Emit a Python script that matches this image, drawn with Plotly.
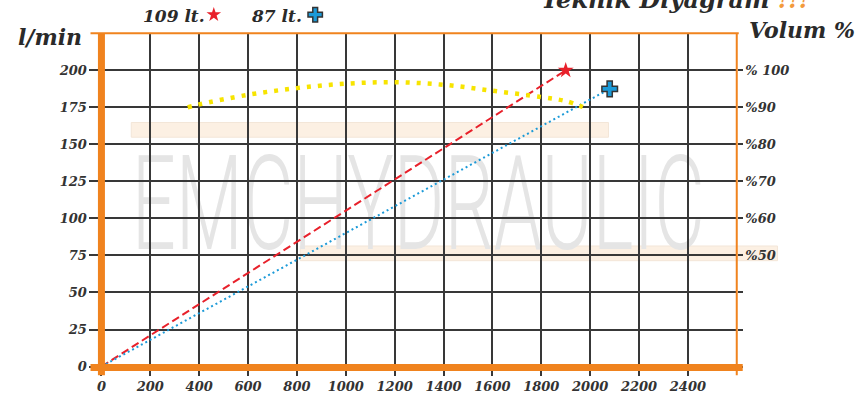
import plotly.graph_objects as go

W, H = 867, 401

# ---- data ----
x_109 = [0, 1900]
y_109 = [0, 200]
x_87 = [0, 2080]
y_87 = [0, 187.5]
eff_rpm = [353, 400, 600, 800, 1000, 1200, 1400, 1600, 1800, 1900, 1970]
eff_pct = [90.0, 90.8, 93.4, 95.2, 96.4, 96.8, 96.1, 94.5, 92.8, 91.7, 90.1]
x_ticks = list(range(0, 2401, 200))
y_ticks = list(range(0, 201, 25))
pct_ticks = [20, 30, 40, 50, 60, 70, 80, 90, 100]
pct_labels = ['', '', '', '%50', '%60', '%70', '%80', '%90', '% 100']
series_names = ['109 lt.', '87 lt.']
title_text = 'Teknik Diyagram'
watermark = 'EMCHYDRAULIC'


def px(x):
    return x / W


def py(y):
    return 1 - y / H


ORANGE = '#f0831e'
GRID = '#383838'
TXT = '#333333'
RED = '#e8212b'
BLUE = '#1b9ad8'
YEL = '#f7e400'
SERIF = 'DejaVu Serif'

tick_font = dict(family=SERIF, size=13, color=TXT, weight='bold', style='italic')

fig = go.Figure()

fig.add_trace(go.Scatter(x=eff_rpm, y=eff_pct, yaxis='y2', mode='lines',
                         line=dict(color=YEL, width=4.5, dash='4px,7px', shape='spline'),
                         hoverinfo='skip', showlegend=False))
fig.add_trace(go.Scatter(x=x_109, y=y_109, mode='lines',
                         line=dict(color=RED, width=2, dash='8px,4px'),
                         hoverinfo='skip', showlegend=False))
fig.add_trace(go.Scatter(x=x_87, y=y_87, mode='lines',
                         line=dict(color=BLUE, width=2, dash='2px,3px'),
                         hoverinfo='skip', showlegend=False))
fig.add_trace(go.Scatter(x=[x_109[-1]], y=[y_109[-1]], mode='markers', cliponaxis=False,
                         marker=dict(symbol='star', size=12, color=RED, line=dict(width=0)),
                         hoverinfo='skip', showlegend=False))
fig.add_trace(go.Scatter(x=[x_87[-1]], y=[y_87[-1]], mode='markers', cliponaxis=False,
                         marker=dict(symbol='cross', size=13, color=BLUE,
                                     line=dict(width=1.5, color='#333')),
                         hoverinfo='skip', showlegend=False))

# legend keys (placed on a page-sized helper axis in pixel units)
fig.add_trace(go.Scatter(x=[210], y=[15], xaxis='x3', yaxis='y3', mode='markers',
                         marker=dict(symbol='star', size=11, color=RED),
                         hoverinfo='skip', showlegend=False, cliponaxis=False))
fig.add_trace(go.Scatter(x=[312], y=[15], xaxis='x3', yaxis='y3', mode='markers',
                         marker=dict(symbol='cross', size=12, color=BLUE,
                                     line=dict(width=1.5, color='#333')),
                         hoverinfo='skip', showlegend=False, cliponaxis=False))

shapes = []
# decorative peach bands
for (x0, x1, y0, y1) in [(127, 607, 125, 140), (297, 777, 251, 266)]:
    shapes.append(dict(type='rect', xref='paper', yref='paper', layer='below',
                       x0=px(x0), x1=px(x1), y0=py(y1), y1=py(y0),
                       fillcolor='#fcf0e3', line=dict(color='#f3e6d8', width=1)))
# watermark
shapes.append(dict(type='rect', xref='paper', yref='paper', layer='below',
                   x0=px(129), x1=px(702), y0=py(245), y1=py(150),
                   fillcolor='rgba(0,0,0,0)', line=dict(width=0),
                   label=dict(text=watermark, textposition='middle center',
                              font=dict(family='Roboto', size=132, color='#e5e5e5',
                                        weight=300))))
# orange frame
frame = [
    (97, 34, 97, 383, 7),
    (86, 375, 742, 375, 7),
    (86, 34, 738, 34, 2),
    (736, 34, 736, 383, 2),
]
for (xa, ya, xb, yb, w) in frame:
    shapes.append(dict(type='line', xref='paper', yref='paper', layer='above',
                       x0=px(xa), y0=py(ya), x1=px(xb), y1=py(yb),
                       line=dict(color=ORANGE, width=w)))

ann_font = dict(family=SERIF, color='#2a2a2a', weight='bold', style='italic')
annotations = [
    dict(text='l/min', x=px(79), y=py(38), xanchor='right', yanchor='middle',
         font=dict(ann_font, size=22)),
    dict(text='Volum %', x=px(746), y=py(31), xanchor='left', yanchor='middle',
         font=dict(ann_font, size=22)),
    dict(text=title_text + ' <span style="color:#f39a3c">!!!</span>', x=px(537), y=py(16),
         xanchor='left', yanchor='bottom', font=dict(ann_font, size=24)),
    dict(text=series_names[0], x=px(203), y=py(16), xanchor='right', yanchor='middle',
         font=dict(ann_font, size=17)),
    dict(text=series_names[1], x=px(301), y=py(16), xanchor='right', yanchor='middle',
         font=dict(ann_font, size=17)),
]
for a in annotations:
    a.update(xref='paper', yref='paper', showarrow=False)

fig.update_layout(
    width=W, height=H,
    margin=dict(l=0, r=0, t=0, b=0),
    paper_bgcolor='white', plot_bgcolor='rgba(0,0,0,0)',
    showlegend=False,
    shapes=shapes,
    annotations=annotations,
    xaxis=dict(domain=[px(97), px(736)], range=[0, 2600], tickvals=x_ticks,
               ticks='outside', ticklen=8, tickwidth=1.5, tickcolor=GRID,
               showgrid=True, gridcolor=GRID, gridwidth=1.6, zeroline=False,
               showline=False, tickfont=tick_font, anchor='y'),
    yaxis=dict(domain=[py(374), py(34)], range=[0, 225], tickvals=y_ticks,
               ticks='outside', ticklen=11, tickwidth=1.5, tickcolor=GRID,
               showgrid=True, gridcolor=GRID, gridwidth=1.6, zeroline=False,
               showline=False, tickfont=tick_font, anchor='x'),
    yaxis2=dict(overlaying='y', side='right', anchor='x', range=[20, 110],
                tickvals=pct_ticks, ticktext=pct_labels, ticks='outside', ticklen=5,
                tickwidth=1.5, tickcolor=GRID, showgrid=False, zeroline=False,
                showline=False, tickfont=tick_font),
    xaxis3=dict(domain=[0, 1], range=[0, W], visible=False, anchor='y3', fixedrange=True),
    yaxis3=dict(domain=[0, 1], range=[H, 0], visible=False, anchor='x3', fixedrange=True),
)

post = """
document.body.style.margin = '0';
document.body.style.overflow = 'hidden';
var gd = document.getElementById('{plot_id}');
gd.querySelectorAll('text').forEach(function(t){
  if (t.textContent === 'EMCHYDRAULIC') {
    var b = t.getBBox();
    if (b.width > 0) {
      var s = 573 / b.width;
      var cx = b.x + b.width / 2;
      var tr = t.getAttribute('transform') || '';
      t.setAttribute('transform', tr + ' translate(' + (cx * (1 - s)) + ',0) scale(' + s + ',1)');
    }
  }
});
"""

fig.write_html('out.html', post_script=post, config={'displayModeBar': False})
